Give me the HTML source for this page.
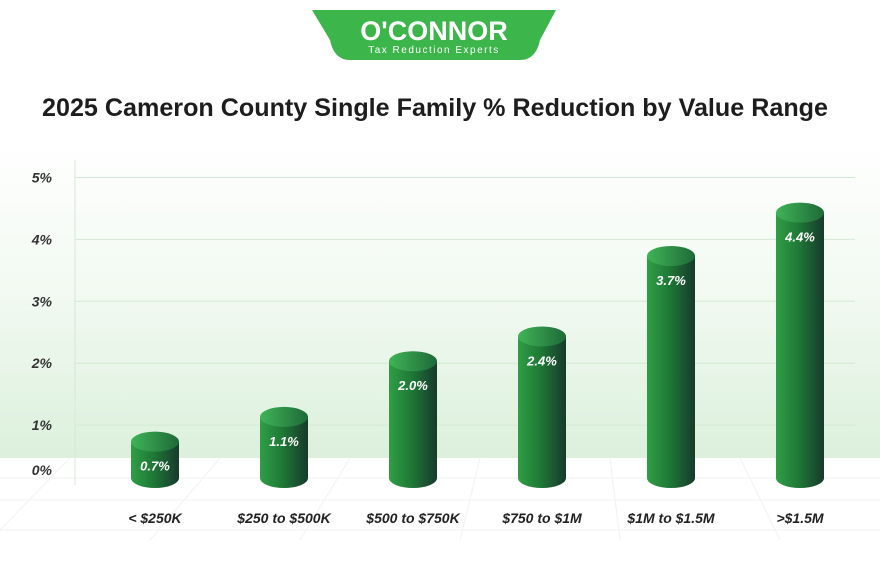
<!DOCTYPE html>
<html><head><meta charset="utf-8"><style>
body{margin:0;width:880px;height:562px;overflow:hidden;background:#fff;font-family:"Liberation Sans",sans-serif}
</style></head><body>
<svg width="880" height="562" viewBox="0 0 880 562">
<defs>
<linearGradient id="bg" x1="0" y1="0" x2="0" y2="1">
<stop offset="0" stop-color="#ffffff"/><stop offset="0.5" stop-color="#f1f9f1"/><stop offset="1" stop-color="#dcf0dc"/></linearGradient>
<linearGradient id="cyl" x1="0" y1="0" x2="1" y2="0">
<stop offset="0" stop-color="#2f9e46"/><stop offset="0.45" stop-color="#1f7a36"/><stop offset="1" stop-color="#173a2c"/></linearGradient>
<linearGradient id="top" x1="0" y1="0" x2="1" y2="0">
<stop offset="0" stop-color="#3fb457"/><stop offset="1" stop-color="#1e6a37"/></linearGradient>
</defs>
<rect x="0" y="140" width="880" height="318" fill="url(#bg)"/>
<g stroke="#f2f2f2" stroke-width="1" fill="none">
<line x1="0" y1="478" x2="880" y2="478"/><line x1="0" y1="500" x2="880" y2="500"/><line x1="0" y1="530" x2="880" y2="530"/>
<line x1="70" y1="458" x2="0" y2="530"/><line x1="220" y1="458" x2="150" y2="540"/><line x1="350" y1="458" x2="300" y2="540"/>
<line x1="480" y1="458" x2="460" y2="540"/><line x1="610" y1="458" x2="620" y2="540"/><line x1="740" y1="458" x2="780" y2="540"/>
</g>
<path d="M312 10 H556 L540 40 Q536 60 520 60 H350 Q334 60 330 40 Z" fill="#3cb54a"/>
<text x="434" y="40" text-anchor="middle" font-size="27" font-weight="bold" fill="#fff">O'CONNOR</text>
<text x="434" y="53" text-anchor="middle" font-size="10" fill="#fff" letter-spacing="1.5">Tax Reduction Experts</text>
<text x="435" y="116" text-anchor="middle" font-size="25" font-weight="bold" fill="#1d1d1d" textLength="786" lengthAdjust="spacingAndGlyphs">2025 Cameron County Single Family % Reduction by Value Range</text>
<line x1="75" y1="160" x2="75" y2="485" stroke="#d5e8d5"/>
<g id="grid"></g><g id="bars"></g>
</svg>
<script>
const categories=["< $250K","$250 to $500K","$500 to $750K","$750 to $1M","$1M to $1.5M",">$1.5M"];
const values=[0.7,1.1,2.0,2.4,3.7,4.4];
const valueLabels=["0.7%","1.1%","2.0%","2.4%","3.7%","4.4%"];
const yTicks=[0,1,2,3,4,5];
const yTickLabels=["0%","1%","2%","3%","4%","5%"];
const NS="http://www.w3.org/2000/svg";
const y=v=>485-v*61.9;
const x=i=>155+i*129;
function mk(t,a,p){const e=document.createElementNS(NS,t);for(const k in a)e.setAttribute(k,a[k]);p.appendChild(e);return e;}
const grid=document.getElementById('grid'),bars=document.getElementById('bars');
yTicks.forEach((t,i)=>{
 if(t>0){const l=mk('line',{x1:75,x2:855,y1:y(t)+2,y2:y(t)+2,stroke:'#d3ead3'},grid);
 
 }
 const tx=mk('text',{x:52,y:(t===0?475:y(t)+7),'text-anchor':'end','font-size':14,'font-weight':'bold','font-style':'italic',fill:'#333'},grid);
 tx.textContent=yTickLabels[i];
 
 
});
values.forEach((v,i)=>{
 const cx=x(i),w=24,ry=10,top=y(v),bot=478;
 const g=mk('g',{},bars);
 
 
 mk('path',{d:`M${cx-w} ${top} V${bot} A${w} ${ry} 0 0 0 ${cx+w} ${bot} V${top} Z`,fill:'url(#cyl)'},g);
 mk('ellipse',{cx:cx,cy:top,rx:w,ry:ry,fill:'url(#top)'},g);
 const t=mk('text',{x:cx,y:top+29,'text-anchor':'middle','font-size':13,'font-weight':'bold','font-style':'italic',fill:'#fff'},g);
 t.textContent=valueLabels[i];
 
 
 const c=mk('text',{x:cx,y:523,'text-anchor':'middle','font-size':14,'font-weight':'bold','font-style':'italic',fill:'#222'},g);
 c.textContent=categories[i];
 
 
});
</script>
</body></html>
